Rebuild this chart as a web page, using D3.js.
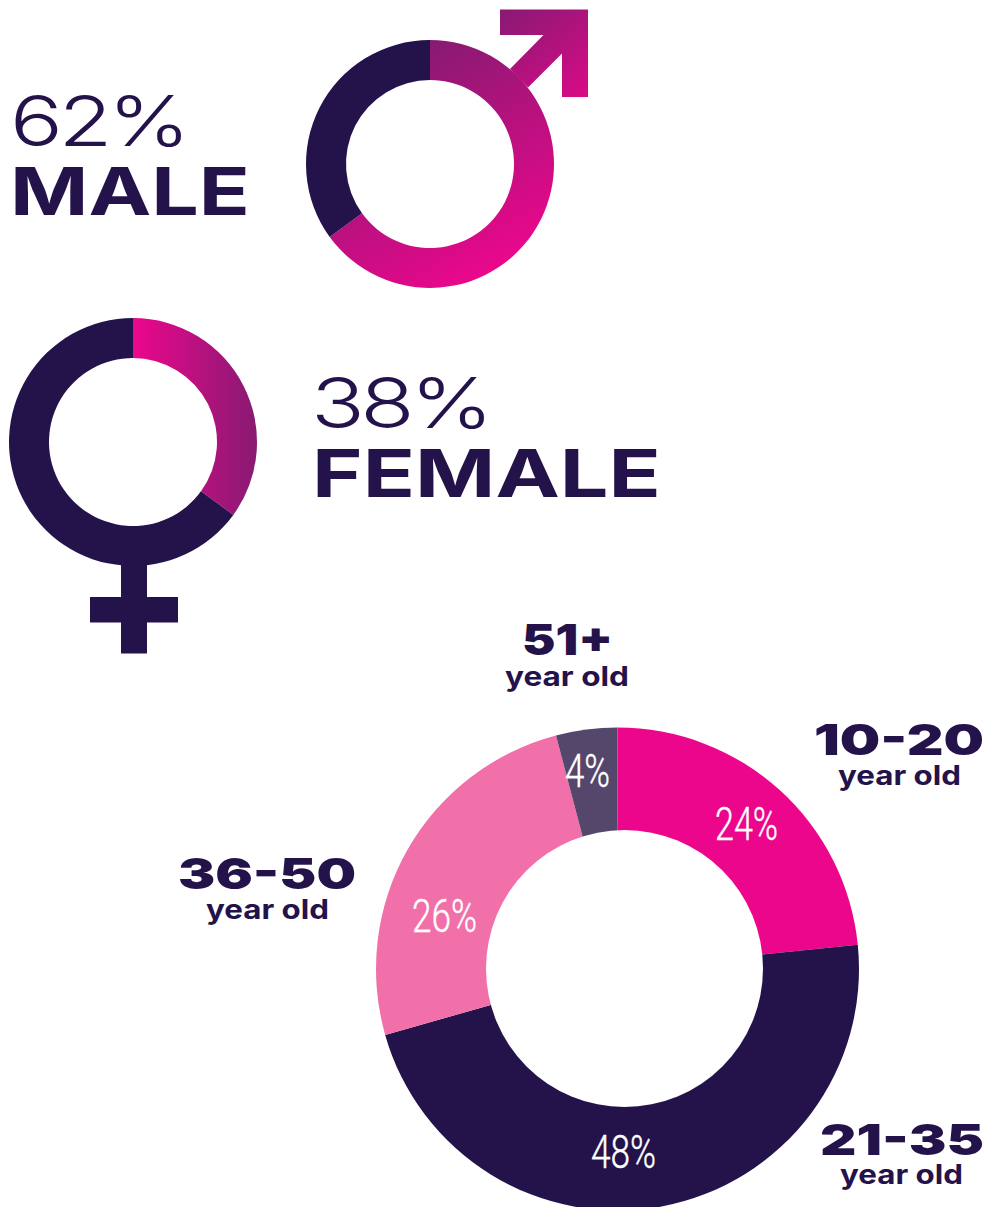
<!DOCTYPE html>
<html>
<head>
<meta charset="utf-8">
<script src="https://cdn.jsdelivr.net/npm/d3@7"></script>
<style>
  html, body { margin: 0; padding: 0; background: #fff; }
  svg { display: block; }
</style>
</head>
<body>
<svg id="chart"></svg>
<script>
// gender rings: the drawn ring split, the labels are what the picture prints
const maleRing = [65, 35];
const femaleRing = [35, 65];
const genderPercents = ["62%", "38%"];
const genderNames = ["MALE", "FEMALE"];

const ageGroups = ["10-20", "21-35", "36-50", "51+"];
const ageValues = [24, 48, 26, 4];
const ageShares = [23.4, 47.2, 25.3, 4.1];
const ageUnit = "year old";

const width = 985, height = 1207;
const dark = "#24134b", magenta = "#ec078c", plum = "#881a72";
const ageColors = ["#ec068c", "#24134b", "#f270a9", "#54476b"];

const svg = d3.select("#chart").attr("width", width).attr("height", height);
const defs = svg.append("defs");

function addGradient(id, x1, y1, x2, y2, from, to) {
  const g = defs.append("linearGradient").attr("id", id)
    .attr("gradientUnits", "userSpaceOnUse")
    .attr("x1", x1).attr("y1", y1).attr("x2", x2).attr("y2", y2);
  g.append("stop").attr("offset", 0).attr("stop-color", from);
  g.append("stop").attr("offset", 1).attr("stop-color", to);
}

addGradient("maleArrowGrad", 500, 10, 590, 130, plum, magenta);
addGradient("maleRingGrad", 0, -119, 115, 81, plum, magenta);
addGradient("femaleRingGrad", 0, 0, 124, 0, magenta, plum);

const pie = d3.pie().sort(null).value(d => d);
const ringArc = d3.arc().innerRadius(84).outerRadius(124);

// fit a text between two x positions, none of the installed fonts has these wide letter shapes
function fitText(text, x0, x1, baseline, size, family, weight, fill, tracking) {
  return svg.append("text")
    .attr("x", x0)
    .attr("y", baseline)
    .attr("textLength", x1 - x0)
    .attr("lengthAdjust", "spacingAndGlyphs")
    .style("font-family", family)
    .style("font-size", size + "px")
    .style("font-weight", weight)
    .style("letter-spacing", (tracking || 0) + "em")
    .attr("fill", fill)
    .text(text);
}

// male symbol
svg.append("polygon")
  .attr("points", "500,9.5 588,9.5 588,97 562,97 562,53.5 528,87.5 510,69 543.5,35 500,35")
  .attr("fill", "url(#maleArrowGrad)");
svg.append("g").attr("transform", "translate(430,164)")
  .selectAll("path")
  .data(pie(maleRing))
  .enter().append("path")
  .attr("d", ringArc)
  .attr("fill", (d, i) => i === 0 ? "url(#maleRingGrad)" : dark);

// female symbol
svg.append("rect").attr("x", 121).attr("y", 555).attr("width", 26).attr("height", 98.5).attr("fill", dark);
svg.append("rect").attr("x", 90).attr("y", 597).attr("width", 88).attr("height", 25.5).attr("fill", dark);
svg.append("g").attr("transform", "translate(133,442)")
  .selectAll("path")
  .data(pie(femaleRing))
  .enter().append("path")
  .attr("d", ringArc)
  .attr("fill", (d, i) => i === 0 ? "url(#femaleRingGrad)" : dark);

// gender texts
fitText(genderPercents[0], 10, 186, 146, 70, "Inter", 300, dark, -0.05);
fitText(genderNames[0], 10, 250, 215, 66, "Inter", 700, dark);
fitText(genderPercents[1], 311, 489, 428, 70, "Inter", 300, dark, -0.05);
fitText(genderNames[1], 312, 661, 497, 66, "Inter", 700, dark);

// age donut, the hole sits a little right of the centre in the original
const ageArc = d3.arc().innerRadius(0).outerRadius(241.5);
const ageG = svg.append("g").attr("transform", "translate(617.5,969)");
ageG.selectAll("path")
  .data(pie(ageShares))
  .enter().append("path")
  .attr("d", ageArc)
  .attr("fill", (d, i) => ageColors[i]);
ageG.append("circle").attr("cx", 7).attr("cy", -0.5).attr("r", 138.5).attr("fill", "#fff");

// left, right, baseline for each slice label, same order as ageValues
const valuePos = [[715, 778, 840], [591, 656, 1168], [412, 477, 932], [565, 610, 787]];
ageValues.forEach((v, i) => {
  const p = valuePos[i];
  fitText(v + "%", p[0], p[1], p[2], 46, "Roboto", 300, "#fff").attr("stroke", "#fff").attr("stroke-width", 0.4);
});

// group name left, right, baseline, then unit left, right, baseline
const groupPos = [
  [814, 984, 755, 838, 961, 785],
  [820, 984, 1155, 840, 963, 1184],
  [178, 356, 889, 206, 329, 919],
  [522, 613, 655, 505, 629, 686]
];
ageGroups.forEach((g, i) => {
  const p = groupPos[i];
  fitText(g, p[0], p[1], p[2], 43, "Inter", 900, dark);
  fitText(ageUnit, p[3], p[4], p[5], 27, "Inter", 700, dark);
});
</script>
</body>
</html>
